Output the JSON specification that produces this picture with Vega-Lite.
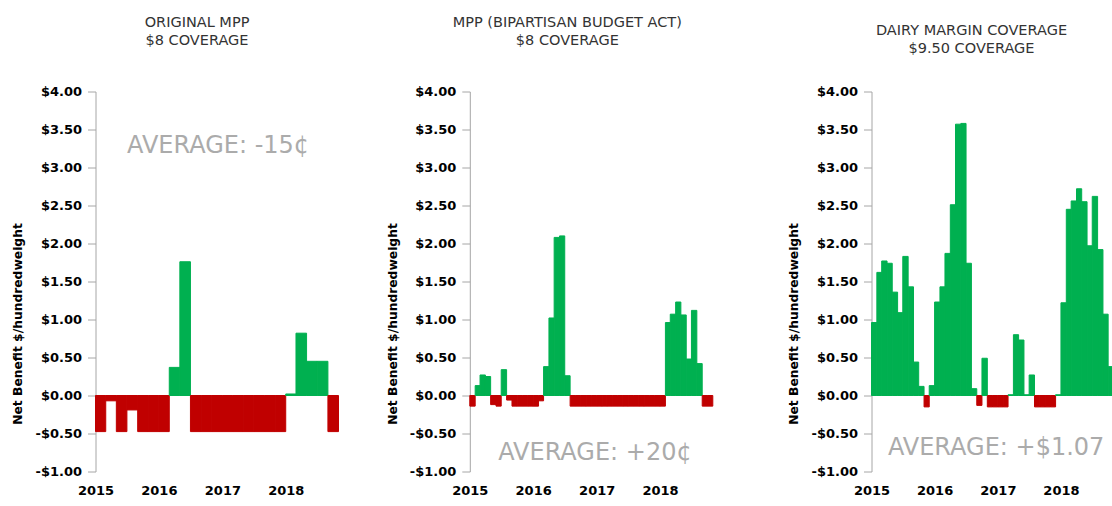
{
  "$schema": "https://vega.github.io/schema/vega-lite/v6.json",
  "background": "white",
  "padding": {"left": 11.5, "top": 14.5, "right": 0, "bottom": 0},
  "config": {
    "view": {"stroke": null},
    "font": "DejaVu Sans",
    "title": {"font": "DejaVu Sans", "fontSize": 14.5, "fontWeight": "normal", "color": "#333333", "subtitleFont": "DejaVu Sans", "subtitleFontSize": 14.5, "subtitleColor": "#333333", "subtitlePadding": 3.5, "anchor": "middle", "frame": "group"},
    "axisY": {"grid": false, "domainColor": "#a6a6a6", "tickColor": "#a6a6a6", "tickSize": 8, "labelPadding": 6, "labelFont": "DejaVu Sans", "labelFontSize": 13, "labelFontWeight": "bold", "labelColor": "#000000", "titleFont": "DejaVu Sans", "titleFontSize": 12.3, "titleFontWeight": "bold", "titleColor": "#000000", "titlePadding": 10, "titleY": 232},
    "axisX": {"grid": false, "domain": false, "ticks": false, "labelFont": "DejaVu Sans", "labelFontSize": 13, "labelFontWeight": "bold", "labelColor": "#000000", "labelPadding": 13, "labelFlush": false}
  },
  "datasets": {
    "mpp": [
      {"start": "2015-01-01", "end": "2015-03-01", "benefit": -0.475},
      {"start": "2015-03-01", "end": "2015-05-01", "benefit": -0.07},
      {"start": "2015-05-01", "end": "2015-07-01", "benefit": -0.475},
      {"start": "2015-07-01", "end": "2015-09-01", "benefit": -0.19},
      {"start": "2015-09-01", "end": "2015-11-01", "benefit": -0.475},
      {"start": "2015-11-01", "end": "2016-01-01", "benefit": -0.475},
      {"start": "2016-01-01", "end": "2016-03-01", "benefit": -0.475},
      {"start": "2016-03-01", "end": "2016-05-01", "benefit": 0.37},
      {"start": "2016-05-01", "end": "2016-07-01", "benefit": 1.76},
      {"start": "2016-07-01", "end": "2016-09-01", "benefit": -0.475},
      {"start": "2016-09-01", "end": "2016-11-01", "benefit": -0.475},
      {"start": "2016-11-01", "end": "2017-01-01", "benefit": -0.475},
      {"start": "2017-01-01", "end": "2017-03-01", "benefit": -0.475},
      {"start": "2017-03-01", "end": "2017-05-01", "benefit": -0.475},
      {"start": "2017-05-01", "end": "2017-07-01", "benefit": -0.475},
      {"start": "2017-07-01", "end": "2017-09-01", "benefit": -0.475},
      {"start": "2017-09-01", "end": "2017-11-01", "benefit": -0.475},
      {"start": "2017-11-01", "end": "2018-01-01", "benefit": -0.475},
      {"start": "2018-01-01", "end": "2018-03-01", "benefit": 0.02},
      {"start": "2018-03-01", "end": "2018-05-01", "benefit": 0.82},
      {"start": "2018-05-01", "end": "2018-07-01", "benefit": 0.45},
      {"start": "2018-07-01", "end": "2018-09-01", "benefit": 0.45},
      {"start": "2018-09-01", "end": "2018-11-01", "benefit": -0.475}
    ],
    "bba": [
      {"start": "2015-01-01", "end": "2015-02-01", "benefit": -0.14},
      {"start": "2015-02-01", "end": "2015-03-01", "benefit": 0.13},
      {"start": "2015-03-01", "end": "2015-04-01", "benefit": 0.27},
      {"start": "2015-04-01", "end": "2015-05-01", "benefit": 0.25},
      {"start": "2015-05-01", "end": "2015-06-01", "benefit": -0.12},
      {"start": "2015-06-01", "end": "2015-07-01", "benefit": -0.14},
      {"start": "2015-07-01", "end": "2015-08-01", "benefit": 0.34},
      {"start": "2015-08-01", "end": "2015-09-01", "benefit": -0.06},
      {"start": "2015-09-01", "end": "2015-10-01", "benefit": -0.14},
      {"start": "2015-10-01", "end": "2015-11-01", "benefit": -0.14},
      {"start": "2015-11-01", "end": "2015-12-01", "benefit": -0.14},
      {"start": "2015-12-01", "end": "2016-01-01", "benefit": -0.14},
      {"start": "2016-01-01", "end": "2016-02-01", "benefit": -0.14},
      {"start": "2016-02-01", "end": "2016-03-01", "benefit": -0.07},
      {"start": "2016-03-01", "end": "2016-04-01", "benefit": 0.38},
      {"start": "2016-04-01", "end": "2016-05-01", "benefit": 1.02},
      {"start": "2016-05-01", "end": "2016-06-01", "benefit": 2.08},
      {"start": "2016-06-01", "end": "2016-07-01", "benefit": 2.10},
      {"start": "2016-07-01", "end": "2016-08-01", "benefit": 0.26},
      {"start": "2016-08-01", "end": "2016-09-01", "benefit": -0.14},
      {"start": "2016-09-01", "end": "2016-10-01", "benefit": -0.14},
      {"start": "2016-10-01", "end": "2016-11-01", "benefit": -0.14},
      {"start": "2016-11-01", "end": "2016-12-01", "benefit": -0.14},
      {"start": "2016-12-01", "end": "2017-01-01", "benefit": -0.14},
      {"start": "2017-01-01", "end": "2017-02-01", "benefit": -0.14},
      {"start": "2017-02-01", "end": "2017-03-01", "benefit": -0.14},
      {"start": "2017-03-01", "end": "2017-04-01", "benefit": -0.14},
      {"start": "2017-04-01", "end": "2017-05-01", "benefit": -0.14},
      {"start": "2017-05-01", "end": "2017-06-01", "benefit": -0.14},
      {"start": "2017-06-01", "end": "2017-07-01", "benefit": -0.14},
      {"start": "2017-07-01", "end": "2017-08-01", "benefit": -0.14},
      {"start": "2017-08-01", "end": "2017-09-01", "benefit": -0.14},
      {"start": "2017-09-01", "end": "2017-10-01", "benefit": -0.14},
      {"start": "2017-10-01", "end": "2017-11-01", "benefit": -0.14},
      {"start": "2017-11-01", "end": "2017-12-01", "benefit": -0.14},
      {"start": "2017-12-01", "end": "2018-01-01", "benefit": -0.14},
      {"start": "2018-01-01", "end": "2018-02-01", "benefit": -0.14},
      {"start": "2018-02-01", "end": "2018-03-01", "benefit": 0.96},
      {"start": "2018-03-01", "end": "2018-04-01", "benefit": 1.07},
      {"start": "2018-04-01", "end": "2018-05-01", "benefit": 1.23},
      {"start": "2018-05-01", "end": "2018-06-01", "benefit": 1.06},
      {"start": "2018-06-01", "end": "2018-07-01", "benefit": 0.48},
      {"start": "2018-07-01", "end": "2018-08-01", "benefit": 1.12},
      {"start": "2018-08-01", "end": "2018-09-01", "benefit": 0.42},
      {"start": "2018-09-01", "end": "2018-10-01", "benefit": -0.14},
      {"start": "2018-10-01", "end": "2018-11-01", "benefit": -0.14}
    ],
    "dmc": [
      {"start": "2015-01-01", "end": "2015-02-01", "benefit": 0.96},
      {"start": "2015-02-01", "end": "2015-03-01", "benefit": 1.62},
      {"start": "2015-03-01", "end": "2015-04-01", "benefit": 1.77},
      {"start": "2015-04-01", "end": "2015-05-01", "benefit": 1.74},
      {"start": "2015-05-01", "end": "2015-06-01", "benefit": 1.36},
      {"start": "2015-06-01", "end": "2015-07-01", "benefit": 1.09},
      {"start": "2015-07-01", "end": "2015-08-01", "benefit": 1.83},
      {"start": "2015-08-01", "end": "2015-09-01", "benefit": 1.43},
      {"start": "2015-09-01", "end": "2015-10-01", "benefit": 0.44},
      {"start": "2015-10-01", "end": "2015-11-01", "benefit": 0.12},
      {"start": "2015-11-01", "end": "2015-12-01", "benefit": -0.15},
      {"start": "2015-12-01", "end": "2016-01-01", "benefit": 0.13},
      {"start": "2016-01-01", "end": "2016-02-01", "benefit": 1.23},
      {"start": "2016-02-01", "end": "2016-03-01", "benefit": 1.43},
      {"start": "2016-03-01", "end": "2016-04-01", "benefit": 1.87},
      {"start": "2016-04-01", "end": "2016-05-01", "benefit": 2.51},
      {"start": "2016-05-01", "end": "2016-06-01", "benefit": 3.57},
      {"start": "2016-06-01", "end": "2016-07-01", "benefit": 3.58},
      {"start": "2016-07-01", "end": "2016-08-01", "benefit": 1.74},
      {"start": "2016-08-01", "end": "2016-09-01", "benefit": 0.09},
      {"start": "2016-09-01", "end": "2016-10-01", "benefit": -0.13},
      {"start": "2016-10-01", "end": "2016-11-01", "benefit": 0.49},
      {"start": "2016-11-01", "end": "2016-12-01", "benefit": -0.15},
      {"start": "2016-12-01", "end": "2017-01-01", "benefit": -0.15},
      {"start": "2017-01-01", "end": "2017-02-01", "benefit": -0.15},
      {"start": "2017-02-01", "end": "2017-03-01", "benefit": -0.15},
      {"start": "2017-03-01", "end": "2017-04-01", "benefit": 0.01},
      {"start": "2017-04-01", "end": "2017-05-01", "benefit": 0.80},
      {"start": "2017-05-01", "end": "2017-06-01", "benefit": 0.73},
      {"start": "2017-06-01", "end": "2017-07-01", "benefit": 0.01},
      {"start": "2017-07-01", "end": "2017-08-01", "benefit": 0.27},
      {"start": "2017-08-01", "end": "2017-09-01", "benefit": -0.15},
      {"start": "2017-09-01", "end": "2017-10-01", "benefit": -0.15},
      {"start": "2017-10-01", "end": "2017-11-01", "benefit": -0.15},
      {"start": "2017-11-01", "end": "2017-12-01", "benefit": -0.15},
      {"start": "2017-12-01", "end": "2018-01-01", "benefit": 0.01},
      {"start": "2018-01-01", "end": "2018-02-01", "benefit": 1.22},
      {"start": "2018-02-01", "end": "2018-03-01", "benefit": 2.45},
      {"start": "2018-03-01", "end": "2018-04-01", "benefit": 2.56},
      {"start": "2018-04-01", "end": "2018-05-01", "benefit": 2.72},
      {"start": "2018-05-01", "end": "2018-06-01", "benefit": 2.55},
      {"start": "2018-06-01", "end": "2018-07-01", "benefit": 1.97},
      {"start": "2018-07-01", "end": "2018-08-01", "benefit": 2.62},
      {"start": "2018-08-01", "end": "2018-09-01", "benefit": 1.92},
      {"start": "2018-09-01", "end": "2018-10-01", "benefit": 1.07},
      {"start": "2018-10-01", "end": "2018-11-01", "benefit": 0.38}
    ],
    "avg": [
      {"panel": "mpp", "start": "2016-12-07", "benefit": 3.28, "label": "AVERAGE: -15¢"},
      {"panel": "bba", "start": "2016-12-22", "benefit": -0.75, "label": "AVERAGE: +20¢"},
      {"panel": "dmc", "start": "2016-12-22", "benefit": -0.69, "label": "AVERAGE: +$1.07"}
    ]
  },
  "spacing": 74,
  "hconcat": [
    {
      "spacing": 46.3,
      "hconcat": [
        {
          "width": 243, "height": 380,
          "title": {"text": "ORIGINAL MPP", "subtitle": "$8 COVERAGE", "offset": 37, "dx": -20},
          "encoding": {
            "x": {"field": "start", "type": "temporal", "title": null, "scale": {"type": "utc", "domain": [{"year": 2015, "month": 1, "date": 1, "utc": true}, {"year": 2018, "month": 11, "date": 1, "utc": true}]}, "axis": {"values": [{"year": 2015, "month": 1, "date": 1, "utc": true}, {"year": 2016, "month": 1, "date": 1, "utc": true}, {"year": 2017, "month": 1, "date": 1, "utc": true}, {"year": 2018, "month": 1, "date": 1, "utc": true}], "format": "%Y", "formatType": "utc"}},
            "y": {"field": "benefit", "type": "quantitative", "title": "Net Benefit $/hundredweight", "scale": {"domain": [-1, 4], "nice": false}, "axis": {"values": [-1, -0.5, 0, 0.5, 1, 1.5, 2, 2.5, 3, 3.5, 4], "labelExpr": "(datum.value < 0 ? '-$' : '$') + format(abs(datum.value), '.2f')"}}
          },
          "layer": [
            {
              "data": {"name": "mpp"},
              "mark": {"type": "rect", "strokeWidth": 1, "strokeOpacity": 1},
              "encoding": {
                "x2": {"field": "end"},
                "y2": {"datum": 0},
                "color": {"condition": {"test": "datum.benefit < 0", "value": "#C00000"}, "value": "#00B050"},
                "stroke": {"condition": {"test": "datum.benefit < 0", "value": "#C00000"}, "value": "#00B050"}
              }
            },
            {
              "data": {"name": "avg"},
              "transform": [{"filter": "datum.panel == 'mpp'"}],
              "mark": {"type": "text", "font": "DejaVu Sans", "fontSize": 24, "color": "#ababab", "align": "center", "baseline": "middle"},
              "encoding": {"text": {"field": "label"}}
            }
          ]
        },
        {
          "width": 243, "height": 380,
          "title": {"text": "MPP (BIPARTISAN BUDGET ACT)", "subtitle": "$8 COVERAGE", "offset": 37.5, "dx": -24},
          "encoding": {
            "x": {"field": "start", "type": "temporal", "title": null, "scale": {"type": "utc", "domain": [{"year": 2015, "month": 1, "date": 1, "utc": true}, {"year": 2018, "month": 11, "date": 1, "utc": true}]}, "axis": {"values": [{"year": 2015, "month": 1, "date": 1, "utc": true}, {"year": 2016, "month": 1, "date": 1, "utc": true}, {"year": 2017, "month": 1, "date": 1, "utc": true}, {"year": 2018, "month": 1, "date": 1, "utc": true}], "format": "%Y", "formatType": "utc"}},
            "y": {"field": "benefit", "type": "quantitative", "title": "Net Benefit $/hundredweight", "scale": {"domain": [-1, 4], "nice": false}, "axis": {"values": [-1, -0.5, 0, 0.5, 1, 1.5, 2, 2.5, 3, 3.5, 4], "labelExpr": "(datum.value < 0 ? '-$' : '$') + format(abs(datum.value), '.2f')"}}
          },
          "layer": [
            {
              "data": {"name": "bba"},
              "mark": {"type": "rect", "strokeWidth": 1, "strokeOpacity": 1},
              "encoding": {
                "x2": {"field": "end"},
                "y2": {"datum": 0},
                "color": {"condition": {"test": "datum.benefit < 0", "value": "#C00000"}, "value": "#00B050"},
                "stroke": {"condition": {"test": "datum.benefit < 0", "value": "#C00000"}, "value": "#00B050"}
              }
            },
            {
              "data": {"name": "avg"},
              "transform": [{"filter": "datum.panel == 'bba'"}],
              "mark": {"type": "text", "font": "DejaVu Sans", "fontSize": 24, "color": "#ababab", "align": "center", "baseline": "middle"},
              "encoding": {"text": {"field": "label"}}
            }
          ]
        }
      ]
    },
    {
      "width": 242, "height": 380,
      "title": {"text": "DAIRY MARGIN COVERAGE", "subtitle": "$9.50 COVERAGE", "offset": 29.5, "dx": -21},
      "encoding": {
        "x": {"field": "start", "type": "temporal", "title": null, "scale": {"type": "utc", "domain": [{"year": 2015, "month": 1, "date": 1, "utc": true}, {"year": 2018, "month": 11, "date": 1, "utc": true}]}, "axis": {"values": [{"year": 2015, "month": 1, "date": 1, "utc": true}, {"year": 2016, "month": 1, "date": 1, "utc": true}, {"year": 2017, "month": 1, "date": 1, "utc": true}, {"year": 2018, "month": 1, "date": 1, "utc": true}], "format": "%Y", "formatType": "utc"}},
        "y": {"field": "benefit", "type": "quantitative", "title": "Net Benefit $/hundredweight", "scale": {"domain": [-1, 4], "nice": false}, "axis": {"values": [-1, -0.5, 0, 0.5, 1, 1.5, 2, 2.5, 3, 3.5, 4], "labelExpr": "(datum.value < 0 ? '-$' : '$') + format(abs(datum.value), '.2f')"}}
      },
      "layer": [
        {
          "data": {"name": "dmc"},
          "mark": {"type": "rect", "strokeWidth": 1, "strokeOpacity": 1},
          "encoding": {
            "x2": {"field": "end"},
            "y2": {"datum": 0},
            "color": {"condition": {"test": "datum.benefit < 0", "value": "#C00000"}, "value": "#00B050"},
            "stroke": {"condition": {"test": "datum.benefit < 0", "value": "#C00000"}, "value": "#00B050"}
          }
        },
        {
          "data": {"name": "avg"},
          "transform": [{"filter": "datum.panel == 'dmc'"}],
          "mark": {"type": "text", "font": "DejaVu Sans", "fontSize": 24, "color": "#ababab", "align": "center", "baseline": "middle"},
          "encoding": {"text": {"field": "label"}}
        }
      ]
    }
  ]
}
